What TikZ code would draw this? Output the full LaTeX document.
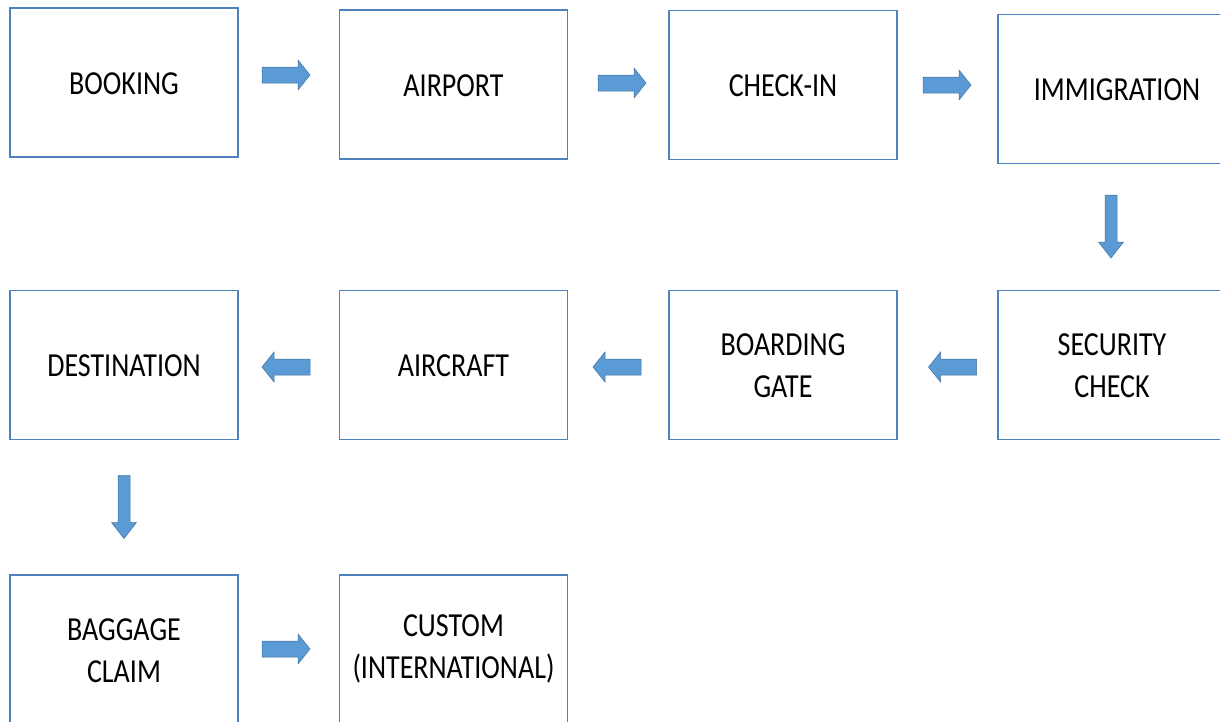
\documentclass[tikz,border=0pt]{standalone}
\usepackage{fontspec}
\setmainfont{Carlito}
\usepackage{graphicx}
\definecolor{boxline}{HTML}{4F81BD}
\definecolor{arrfill}{HTML}{5B9BD5}
\definecolor{arrline}{HTML}{41719C}
\newcommand\boxtext[2][-3.5pt]{\raisebox{#1}[\height][\depth]{\scalebox{1}[1.2]{\begin{tabular}{@{}c@{}}#2\end{tabular}}}}
\begin{document}
\begin{tikzpicture}[x=1pt,y=1pt,
  stagebox/.style={draw=boxline, line width=1.2pt, fill=white, minimum width=228pt, minimum height=149pt, inner sep=0pt, font=\fontsize{28}{35}\selectfont},
  harrow/.pic={\filldraw[fill=arrfill, draw=arrline, line width=0.5pt] (-24,-8) -- (12,-8) -- (12,-15) -- (24,0) -- (12,15) -- (12,8) -- (-24,8) -- cycle;},
  varrow/.pic={\filldraw[fill=arrfill, draw=arrline, line width=0.5pt] (-6,31.5) -- (-6,-15.5) -- (-12.5,-15.5) -- (0,-31.5) -- (12.5,-15.5) -- (6,-15.5) -- (6,31.5) -- cycle;}]
\useasboundingbox (0,0) rectangle (1220,-721);
\clip (0,0) rectangle (1220,-721);
\node[stagebox] (b1) at (124,-82.5) {\boxtext{BOOKING}};
\node[stagebox] (b2) at (453.5,-84.5) {\boxtext{AIRPORT}};
\node[stagebox] (b3) at (783,-85) {\boxtext{CHECK-IN}};
\node[stagebox] (b4) at (1112,-89) {\hspace*{10pt}\boxtext{IMMIGRATION}};
\node[stagebox] (b5) at (1112,-365) {\boxtext{SECURITY\\CHECK}};
\node[stagebox] (b6) at (783,-365) {\boxtext{BOARDING\\GATE}};
\node[stagebox] (b7) at (453.5,-365) {\boxtext{AIRCRAFT}};
\node[stagebox] (b8) at (124,-365) {\boxtext{DESTINATION}};
\node[stagebox] (b9) at (124,-649.5) {\boxtext{BAGGAGE\\CLAIM}};
\node[stagebox] (b10) at (453.5,-649.5) {\boxtext[0pt]{CUSTOM\\(INTERNATIONAL)}};
\pic at (286,-75) {harrow};
\pic at (622,-83) {harrow};
\pic at (947,-85) {harrow};
\pic at (1111,-226.5) {varrow};
\pic[rotate=180] at (952.5,-367) {harrow};
\pic[rotate=180] at (617,-367) {harrow};
\pic[rotate=180] at (286,-367) {harrow};
\pic at (124,-507) {varrow};
\pic at (286,-649) {harrow};
\end{tikzpicture}
\end{document}
